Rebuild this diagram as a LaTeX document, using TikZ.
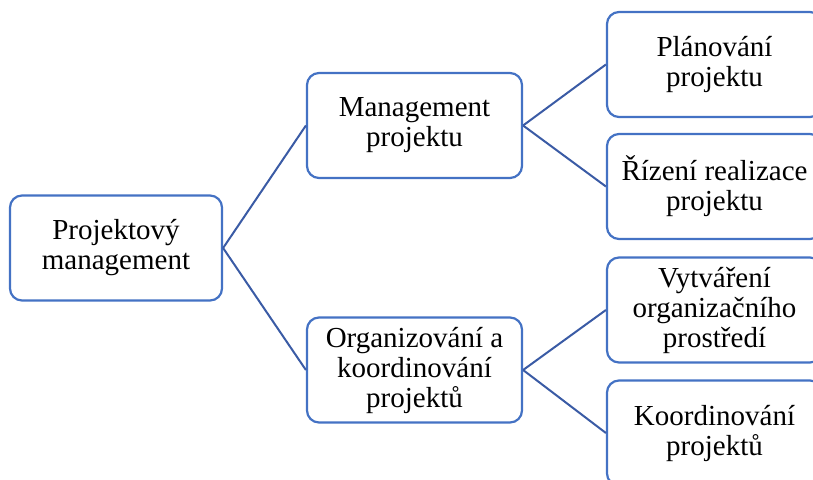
\documentclass[tikz,border=0pt]{standalone}
\usepackage{fontspec}
\setmainfont{Liberation Serif}
\usetikzlibrary{calc}

\definecolor{boxblue}{HTML}{4472C4}
\definecolor{lineblue}{HTML}{3A5BA5}

\tikzset{
    topic/.style={draw=boxblue, line width=2.2pt, rounded corners=12pt, fill=white,
        align=center, minimum width=#1, minimum height=105pt, inner sep=2pt,
        font=\fontsize{29}{30}\selectfont},
    topic/.default=215pt,
    link/.style={draw=lineblue, line width=2pt}
}

\begin{document}
\begin{tikzpicture}[x=1pt, y=-1pt]
    \useasboundingbox (0, 0) rectangle (813, 479);
    \clip (0, 0) rectangle (813, 479);

    % root
    \node[topic=212pt] (root) at (116, 248) {Projektový\\management};

    % second level
    \node[topic] (mgmt) at (414.5, 125.5) {Management\\projektu};
    \node[topic] (org) at (414.5, 370) {Organizování a\\koordinování\\projektů};

    % leaves
    \node[topic] (plan) at (714.5, 64.5) {Plánování\\projektu};
    \node[topic] (rizeni) at (714.5, 186.5) {Řízení realizace\\projektu};
    \node[topic] (vytv) at (714.5, 310) {Vytváření\\organizačního\\prostředí};
    \node[topic] (koord) at (714.5, 433) {Koordinování\\projektů};

    \draw[link] (root.east) -- (mgmt.west);
    \draw[link] (root.east) -- (org.west);
    \draw[link] (mgmt.east) -- (plan.west);
    \draw[link] (mgmt.east) -- (rizeni.west);
    \draw[link] (org.east) -- (vytv.west);
    \draw[link] (org.east) -- (koord.west);
\end{tikzpicture}
\end{document}
